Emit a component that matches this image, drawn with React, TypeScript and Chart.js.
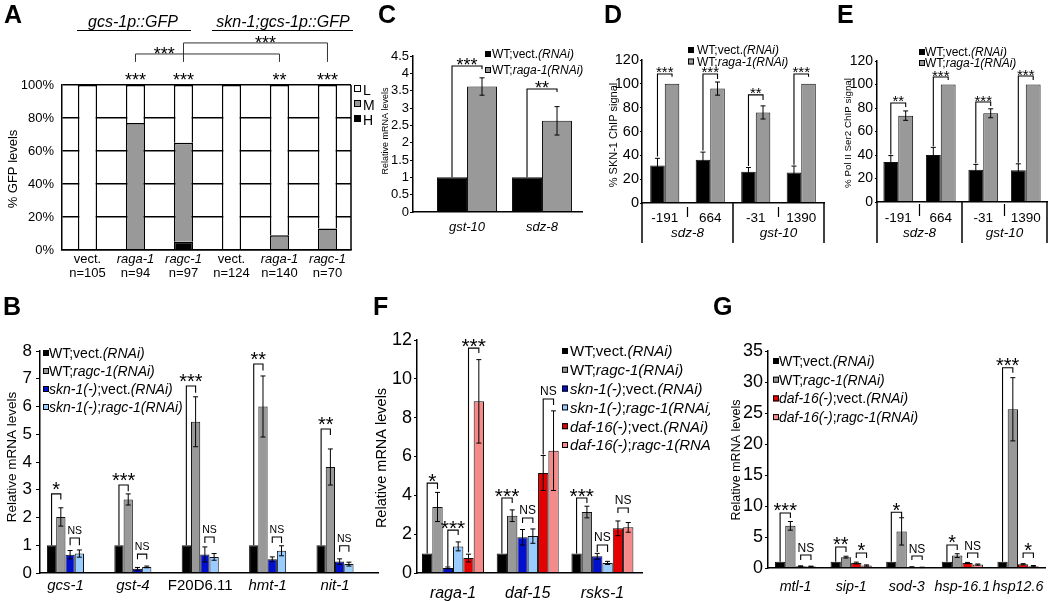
import React, { useEffect, useRef } from 'react';
import { Chart, registerables } from 'chart.js';

Chart.register(...registerables);

const W = 1050;
const H = 601;
const FONT = 'Arial, "Liberation Sans", Helvetica, sans-serif';

type Seg = [string, boolean];

// ---------- colours ----------
const COL_BLACK = '#000000';
const COL_GRAY = '#999999';
const COL_WHITE = '#ffffff';
const COL_BLUE = '#0010cc';
const COL_LBLUE = '#99ccff';
const COL_RED = '#e40000';
const COL_PINK = '#f58a8a';

// ---------- legend labels ----------
const LBL_WT_VECT: Seg[] = [['WT;vect.', false], ['(RNAi)', true]];
const LBL_WT_RAGA: Seg[] = [['WT;', false], ['raga-1(RNAi)', true]];
const LBL_WT_RAGC: Seg[] = [['WT;', false], ['ragc-1(RNAi)', true]];
const LBL_SKN_VECT: Seg[] = [['skn-1(-)', true], [';vect.', false], ['(RNAi)', true]];
const LBL_SKN_RAGC: Seg[] = [['skn-1(-)', true], [';', false], ['ragc-1(RNAi)', true]];
const LBL_DAF_VECT: Seg[] = [['daf-16(-)', true], [';vect.', false], ['(RNAi)', true]];
const LBL_DAF_RAGC: Seg[] = [['daf-16(-)', true], [';', false], ['ragc-1(RNAi)', true]];

// ---------- Panel A ----------
const A_GENOTYPE = ['vect.', 'raga-1', 'ragc-1', 'vect.', 'raga-1', 'ragc-1'];
const A_GENOTYPE_ITALIC = [false, true, true, false, true, true];
const A_N = ['n=105', 'n=94', 'n=97', 'n=124', 'n=140', 'n=70'];
const A_HIGH = [0, 0, 5, 0, 0, 0];
const A_MED = [0, 77, 60, 0, 9, 13];
const A_LOW = [100, 23, 35, 100, 91, 87];
const A_STARS = ['', '***', '***', '', '**', '***'];
const A_LEVELS = ['L', 'M', 'H'];
const A_STRAINS = ['gcs-1p::GFP', 'skn-1;gcs-1p::GFP'];
const A_PAIRS = [
  { from: 1, to: 4, top: 118.8, leg: 114, text: '***', at: 0.2 },
  { from: 2, to: 5, top: 125.5, leg: 114, text: '***', at: 0.57 },
];

// ---------- Panel B ----------
const B_GENES = ['gcs-1', 'gst-4', 'F20D6.11', 'hmt-1', 'nit-1'];
const B_GENES_ITALIC = [true, true, false, true, true];
const B_WT_VECT = [1, 1, 1, 1, 1];
const B_WT_RAGC = [2.02, 2.65, 5.45, 6.0, 3.82];
const B_WT_RAGC_ERR = [0.33, 0.2, 0.9, 1.1, 0.65];
const B_SKN_VECT = [0.66, 0.15, 0.67, 0.5, 0.41];
const B_SKN_VECT_ERR = [0.15, 0.05, 0.27, 0.08, 0.1];
const B_SKN_RAGC = [0.7, 0.22, 0.58, 0.8, 0.32];
const B_SKN_RAGC_ERR = [0.13, 0.03, 0.12, 0.18, 0.07];
const B_SIG = [
  { cat: 0, a: 0, b: 1, top: 2.85, aEnd: 1, bEnd: 2.65, text: '*' },
  { cat: 0, a: 2, b: 3, top: 1.26, aEnd: 1.0, bEnd: 1.0, text: 'NS' },
  { cat: 1, a: 0, b: 1, top: 3.17, aEnd: 1, bEnd: 2.95, text: '***' },
  { cat: 1, a: 2, b: 3, top: 0.68, aEnd: 0.5, bEnd: 0.5, text: 'NS' },
  { cat: 2, a: 0, b: 1, top: 6.74, aEnd: 1, bEnd: 6.5, text: '***' },
  { cat: 2, a: 2, b: 3, top: 1.3, aEnd: 1.08, bEnd: 1.08, text: 'NS' },
  { cat: 3, a: 0, b: 1, top: 7.53, aEnd: 1, bEnd: 7.3, text: '**' },
  { cat: 3, a: 2, b: 3, top: 1.3, aEnd: 1.08, bEnd: 1.08, text: 'NS' },
  { cat: 4, a: 0, b: 1, top: 5.19, aEnd: 1, bEnd: 4.97, text: '**' },
  { cat: 4, a: 2, b: 3, top: 0.98, aEnd: 0.77, bEnd: 0.77, text: 'NS' },
];

// ---------- Panel C ----------
const C_GENES = ['gst-10', 'sdz-8'];
const C_VECT = [1, 1];
const C_RAGA = [3.62, 2.63];
const C_RAGA_ERR = [0.25, 0.41];
const C_SIG = [
  { cat: 0, a: 0, b: 1, top: 4.21, aEnd: 1, bEnd: 4.12, text: '***' },
  { cat: 1, a: 0, b: 1, top: 3.55, aEnd: 1, bEnd: 3.46, text: '**' },
];

// ---------- Panel D ----------
const D_SITES = ['-191', '664', '-31', '1390'];
const D_GENES = ['sdz-8', 'gst-10'];
const D_VECT = [31.5, 36.3, 26.2, 25.6];
const D_VECT_ERR = [6, 6.4, 3.6, 5.4];
const D_RAGA = [100, 96, 76, 100];
const D_RAGA_ERR = [0, 5.5, 5.5, 0];
const D_SIG = [
  { cat: 0, a: 0, b: 1, top: 108.3, aEnd: 39, bEnd: 106, text: '***' },
  { cat: 1, a: 0, b: 1, top: 108.3, aEnd: 44, bEnd: 104, text: '***' },
  { cat: 2, a: 0, b: 1, top: 90.7, aEnd: 31, bEnd: 86.5, text: '**' },
  { cat: 3, a: 0, b: 1, top: 108.3, aEnd: 32, bEnd: 106, text: '***' },
];

// ---------- Panel E ----------
const E_SITES = ['-191', '664', '-31', '1390'];
const E_GENES = ['sdz-8', 'gst-10'];
const E_VECT = [34, 40, 27.5, 27];
const E_VECT_ERR = [5.5, 6.5, 4.5, 5.5];
const E_RAGA = [73.5, 100, 75.5, 100];
const E_RAGA_ERR = [4, 0, 3.8, 0];
const E_SIG = [
  { cat: 0, a: 0, b: 1, top: 84.3, aEnd: 40.5, bEnd: 80.9, text: '**' },
  { cat: 1, a: 0, b: 1, top: 106.4, aEnd: 47.5, bEnd: 103.8, text: '***' },
  { cat: 2, a: 0, b: 1, top: 85.1, aEnd: 33, bEnd: 81.7, text: '***' },
  { cat: 3, a: 0, b: 1, top: 107.2, aEnd: 33.5, bEnd: 103.8, text: '***' },
];

// ---------- Panel F ----------
const F_GENES = ['raga-1', 'daf-15', 'rsks-1'];
const F_WT_VECT = [1, 1, 1];
const F_WT_RAGC = [3.4, 2.95, 3.14];
const F_WT_RAGC_ERR = [0.75, 0.3, 0.3];
const F_SKN_VECT = [0.26, 1.84, 0.86];
const F_SKN_VECT_ERR = [0.05, 0.4, 0.15];
const F_SKN_RAGC = [1.37, 1.9, 0.52];
const F_SKN_RAGC_ERR = [0.23, 0.37, 0.08];
const F_DAF_VECT = [0.77, 5.15, 2.3];
const F_DAF_VECT_ERR = [0.2, 0.9, 0.38];
const F_DAF_RAGC = [8.84, 6.3, 2.35];
const F_DAF_RAGC_ERR = [2.15, 2.05, 0.25];
const F_SIG = [
  { cat: 0, a: 0, b: 1, top: 4.63, aEnd: 1, bEnd: 4.33, text: '*' },
  { cat: 0, a: 2, b: 3, top: 2.21, aEnd: 0.33, bEnd: 1.96, text: '***' },
  { cat: 0, a: 4, b: 5, top: 11.58, aEnd: 1.05, bEnd: 11.33, text: '***' },
  { cat: 1, a: 0, b: 1, top: 3.86, aEnd: 1, bEnd: 3.6, text: '***' },
  { cat: 1, a: 2, b: 3, top: 2.83, aEnd: 2.58, bEnd: 2.58, text: 'NS' },
  { cat: 1, a: 4, b: 5, top: 8.96, aEnd: 6.1, bEnd: 8.65, text: 'NS' },
  { cat: 2, a: 0, b: 1, top: 3.86, aEnd: 1, bEnd: 3.6, text: '***' },
  { cat: 2, a: 2, b: 3, top: 1.44, aEnd: 1.08, bEnd: 1.08, text: 'NS' },
  { cat: 2, a: 4, b: 5, top: 3.35, aEnd: 3.09, bEnd: 3.09, text: 'NS' },
];

// ---------- Panel G ----------
const G_GENES = ['mtl-1', 'sip-1', 'sod-3', 'hsp-16.1', 'hsp12.6'];
const G_WT_VECT = [1, 1, 1, 1, 1];
const G_WT_RAGC = [6.8, 1.75, 5.9, 2.0, 25.6];
const G_WT_RAGC_ERR = [0.7, 0.15, 2.2, 0.3, 5.1];
const G_DAF_VECT = [0.3, 0.8, 0.15, 0.8, 0.6];
const G_DAF_VECT_ERR = [0.05, 0.15, 0.05, 0.1, 0.1];
const G_DAF_RAGC = [0.25, 0.4, 0.1, 0.55, 0.3];
const G_DAF_RAGC_ERR = [0.05, 0.1, 0.03, 0.1, 0.1];
const G_SIG = [
  { cat: 0, a: 0, b: 1, top: 8.87, aEnd: 1, bEnd: 8.06, text: '***' },
  { cat: 0, a: 2, b: 3, top: 2.1, aEnd: 1.29, bEnd: 1.29, text: 'NS' },
  { cat: 1, a: 0, b: 1, top: 3.39, aEnd: 1, bEnd: 2.58, text: '**' },
  { cat: 1, a: 2, b: 3, top: 2.42, aEnd: 1.6, bEnd: 1.6, text: '*' },
  { cat: 2, a: 0, b: 1, top: 9.0, aEnd: 1, bEnd: 8.1, text: '*' },
  { cat: 2, a: 2, b: 3, top: 1.94, aEnd: 1.29, bEnd: 1.29, text: 'NS' },
  { cat: 3, a: 0, b: 1, top: 3.7, aEnd: 1, bEnd: 2.9, text: '*' },
  { cat: 3, a: 2, b: 3, top: 2.42, aEnd: 1.6, bEnd: 1.6, text: 'NS' },
  { cat: 4, a: 0, b: 1, top: 32.3, aEnd: 1, bEnd: 31.5, text: '***' },
  { cat: 4, a: 2, b: 3, top: 2.42, aEnd: 1.6, bEnd: 1.6, text: '*' },
];

// ---------- drawing helpers ----------
function line(ctx: any, x1: number, y1: number, x2: number, y2: number) {
  ctx.beginPath();
  ctx.moveTo(x1, y1);
  ctx.lineTo(x2, y2);
  ctx.stroke();
}

function fontOf(size: number, italic: boolean, bold = false) {
  return `${italic ? 'italic ' : ''}${bold ? 'bold ' : ''}${size}px ${FONT}`;
}

function segsWidth(ctx: any, segs: Seg[], size: number) {
  let w = 0;
  for (const [t, it] of segs) {
    ctx.font = fontOf(size, it);
    w += ctx.measureText(t).width;
  }
  return w;
}

function drawSegs(ctx: any, segs: Seg[], x: number, y: number, size: number, center: boolean) {
  let cx = center ? x - segsWidth(ctx, segs, size) / 2 : x;
  ctx.textAlign = 'left';
  ctx.textBaseline = 'alphabetic';
  ctx.fillStyle = '#000';
  for (const [t, it] of segs) {
    ctx.font = fontOf(size, it);
    ctx.fillText(t, cx, y);
    cx += ctx.measureText(t).width;
  }
}

function drawSigText(ctx: any, text: string, x: number, cy: number, starFont: number, nsFont: number) {
  const star = text.indexOf('*') >= 0;
  const size = star ? starFont : nsFont;
  ctx.font = fontOf(size, false);
  ctx.textAlign = 'center';
  ctx.textBaseline = 'alphabetic';
  ctx.fillStyle = '#000';
  ctx.fillText(text, x, cy + (star ? 0.57 : 0.36) * size);
}

interface Series { label: Seg[]; values: number[]; errors?: number[]; color: string }
interface Sig { cat: number; a: number; b: number; top: number; aEnd: number; bEnd: number; text: string }
interface XRow { segs: Seg[][]; y: number; font: number }

interface PanelSpec {
  letter: string;
  letterAt: [number, number];
  area: [number, number, number, number];
  xRange: [number, number];
  count: number;
  y: { min: number; max: number; step: number; font: number; tick: number; pad: number; fmt: (v: number) => string; grid?: boolean };
  series: Series[];
  barBorder: string;
  barBorderW: number;
  stacked?: boolean;
  catPct: number;
  cap: number;
  sigs: Sig[];
  starFont: number;
  nsFont: number;
  starGap: number;
  nsGap: number;
  title: { text: string; font: number; x: number; y: number };
  legend?: { x: number; tx: number; y: number; dy: number; font: number; sq: number };
  xRows: XRow[];
  clipRight?: number;
  extra?: (ctx: any, chart: any) => void;
}

function italicRow(names: string[], italic?: boolean[]): Seg[][] {
  return names.map((n, i) => [[n, italic ? italic[i] : true]] as Seg[]);
}

function drawSiteBox(ctx: any, chart: any, genes: string[], top0: number) {
  const xs = chart.scales.x;
  const b = chart.chartArea.bottom;
  ctx.strokeStyle = '#000';
  ctx.lineWidth = 1.5;
  [0.5, 2.5, 4.5].forEach((v) => {
    const x = xs.getPixelForValue(v);
    line(ctx, x, b, x, 243);
  });
  ctx.lineWidth = 1.2;
  [1.5, 3.5].forEach((v) => {
    const x = xs.getPixelForValue(v);
    line(ctx, x, b + top0, x, b + 14);
  });
  genes.forEach((g, k) => drawSegs(ctx, [[g, true]], xs.getPixelForValue(1.5 + 2 * k), 237, 13.5, true));
}

function drawAExtra(ctx: any, chart: any) {
  const xs = chart.scales.x;
  const ys = chart.scales.y;
  const ca = chart.chartArea;
  ctx.strokeStyle = '#000';
  ctx.lineWidth = 1.5;
  line(ctx, ca.right, ca.top, ca.right, ca.bottom);
  // strain headers
  const hx = [133, 283];
  const ul: [number, number][] = [[77, 191], [212, 353]];
  A_STRAINS.forEach((s, k) => {
    drawSegs(ctx, [[s, true]], hx[k], 26.5, 16, true);
    ctx.lineWidth = 1;
    line(ctx, ul[k][0], 30.5, ul[k][1], 30.5);
  });
  // stars above bars
  A_STARS.forEach((s, i) => {
    if (s) drawSigText(ctx, s, xs.getPixelForValue(i + 1), ys.getPixelForValue(105.5), 18, 12);
  });
  // cross-strain brackets
  ctx.strokeStyle = '#333';
  ctx.lineWidth = 1;
  A_PAIRS.forEach((p) => {
    const x1 = xs.getPixelForValue(p.from + 1);
    const x2 = xs.getPixelForValue(p.to + 1);
    const yt = ys.getPixelForValue(p.top);
    const yl = ys.getPixelForValue(p.leg);
    ctx.beginPath();
    ctx.moveTo(x1, yl);
    ctx.lineTo(x1, yt);
    ctx.lineTo(x2, yt);
    ctx.lineTo(x2, yl);
    ctx.stroke();
    drawSigText(ctx, p.text, x1 + p.at * (x2 - x1), yt - 4, 18, 12);
  });
  // legend L / M / H
  const lcol = [COL_WHITE, COL_GRAY, COL_BLACK];
  A_LEVELS.forEach((lv, i) => {
    const cy = 88.5 + i * 15;
    ctx.fillStyle = lcol[i];
    ctx.fillRect(354, cy - 3.5, 7, 7);
    ctx.strokeStyle = '#000';
    ctx.lineWidth = 1;
    ctx.strokeRect(354.5, cy - 3, 6, 6);
    drawSegs(ctx, [[lv, false]], 363, cy + 0.36 * 14 + 1, 14, false);
  });
}

function annotPlugin(spec: PanelSpec) {
  return {
    id: 'annot',
    afterDraw(chart: any) {
      const ctx = chart.ctx;
      const xs = chart.scales.x;
      const ys = chart.scales.y;
      ctx.save();
      if (spec.clipRight) {
        ctx.beginPath();
        ctx.rect(0, 0, spec.clipRight, H);
        ctx.clip();
      }
      ctx.strokeStyle = '#000';
      ctx.fillStyle = '#000';
      ctx.lineWidth = 1;
      // error bars
      spec.series.forEach((s, di) => {
        if (!s.errors) return;
        const meta = chart.getDatasetMeta(di);
        s.values.forEach((v, i) => {
          const e = s.errors![i];
          if (!e) return;
          const x = meta.data[i].x;
          const y1 = ys.getPixelForValue(v + e);
          const y2 = ys.getPixelForValue(v - e);
          line(ctx, x, y1, x, y2);
          line(ctx, x - spec.cap, y1, x + spec.cap, y1);
          line(ctx, x - spec.cap, y2, x + spec.cap, y2);
        });
      });
      // significance brackets
      ctx.lineWidth = 1.1;
      spec.sigs.forEach((sg) => {
        const xa = chart.getDatasetMeta(sg.a).data[sg.cat].x;
        const xb = chart.getDatasetMeta(sg.b).data[sg.cat].x;
        const yt = ys.getPixelForValue(sg.top);
        ctx.beginPath();
        ctx.moveTo(xa, ys.getPixelForValue(sg.aEnd));
        ctx.lineTo(xa, yt);
        ctx.lineTo(xb, yt);
        ctx.lineTo(xb, ys.getPixelForValue(sg.bEnd));
        ctx.stroke();
        const star = sg.text.indexOf('*') >= 0;
        drawSigText(ctx, sg.text, (xa + xb) / 2, yt - (star ? spec.starGap : spec.nsGap), spec.starFont, spec.nsFont);
      });
      // x labels
      spec.xRows.forEach((row) => {
        row.segs.forEach((segs, i) => drawSegs(ctx, segs, xs.getPixelForValue(i + 1), row.y, row.font, true));
      });
      // y title
      ctx.save();
      ctx.translate(spec.title.x, spec.title.y);
      ctx.rotate(-Math.PI / 2);
      ctx.font = fontOf(spec.title.font, false);
      ctx.textAlign = 'center';
      ctx.textBaseline = 'middle';
      ctx.fillStyle = '#000';
      ctx.fillText(spec.title.text, 0, 0);
      ctx.restore();
      // legend
      if (spec.legend) {
        const lg = spec.legend;
        spec.series.forEach((s, i) => {
          const cy = lg.y + i * lg.dy;
          ctx.fillStyle = s.color;
          ctx.fillRect(lg.x, cy - lg.sq / 2, lg.sq, lg.sq);
          ctx.strokeStyle = '#000';
          ctx.lineWidth = 1;
          ctx.strokeRect(lg.x + 0.5, cy - lg.sq / 2 + 0.5, lg.sq - 1, lg.sq - 1);
          drawSegs(ctx, s.label, lg.tx, cy + 0.36 * lg.font, lg.font, false);
        });
      }
      // panel letter
      ctx.font = fontOf(25, false, true);
      ctx.textAlign = 'left';
      ctx.textBaseline = 'alphabetic';
      ctx.fillStyle = '#000';
      ctx.fillText(spec.letter, spec.letterAt[0], spec.letterAt[1]);
      if (spec.extra) spec.extra(ctx, chart);
      ctx.restore();
    },
  };
}

function makeConfig(spec: PanelSpec): any {
  const [L, T, R, B] = spec.area;
  const yW = 40;
  const xH = 10;
  const tickList = Array.from({ length: spec.count }, (_, i) => ({ value: i + 1 }));
  return {
    type: 'bar',
    data: {
      datasets: spec.series.map((s) => ({
        data: s.values.map((v, i) => ({ x: i + 1, y: v })),
        backgroundColor: s.color,
        borderColor: spec.barBorder,
        borderWidth: spec.barBorderW,
        borderSkipped: 'start',
        categoryPercentage: spec.catPct,
        barPercentage: 1,
        inflateAmount: 0,
      })),
    },
    options: {
      responsive: false,
      animation: false,
      events: [],
      devicePixelRatio: 1,
      layout: { padding: { left: L - yW, top: T, right: W - R, bottom: H - B - xH } },
      plugins: { legend: { display: false }, tooltip: { enabled: false }, title: { display: false } },
      scales: {
        x: {
          type: 'linear',
          min: spec.xRange[0],
          max: spec.xRange[1],
          offset: false,
          stacked: !!spec.stacked,
          afterBuildTicks: (s: any) => {
            s.ticks = tickList.map((t) => ({ ...t }));
          },
          afterFit: (s: any) => {
            s.height = xH;
          },
          ticks: { display: false },
          grid: { display: false },
          border: { display: true, color: '#000', width: 1.5, z: 1 },
        },
        y: {
          type: 'linear',
          min: spec.y.min,
          max: spec.y.max,
          stacked: !!spec.stacked,
          afterFit: (s: any) => {
            s.width = yW;
          },
          ticks: {
            stepSize: spec.y.step,
            autoSkip: false,
            color: '#000',
            padding: spec.y.pad,
            font: { family: FONT, size: spec.y.font },
            callback: (v: any) => spec.y.fmt(Number(v)),
          },
          grid: spec.y.grid
            ? { display: true, drawOnChartArea: true, drawTicks: false, color: '#000', lineWidth: 1.5 }
            : { display: true, drawOnChartArea: false, drawTicks: true, tickLength: spec.y.tick, color: '#000', lineWidth: 1 },
          border: { display: true, color: '#000', width: 1.5, z: 1 },
        },
      },
    },
    plugins: [annotPlugin(spec)],
  };
}

const num = (v: number) => `${v}`;

const SPEC_A: PanelSpec = {
  letter: 'A', letterAt: [4, 23],
  area: [62, 85, 351, 250], xRange: [0.469, 6.49], count: A_GENOTYPE.length,
  y: { min: 0, max: 100, step: 20, font: 13, tick: 0, pad: 8, fmt: (v) => `${v}%`, grid: true },
  series: [
    { label: [['H', false]], values: A_HIGH, color: COL_BLACK },
    { label: [['M', false]], values: A_MED, color: COL_GRAY },
    { label: [['L', false]], values: A_LOW, color: COL_WHITE },
  ],
  barBorder: '#000', barBorderW: 1.5, stacked: true, catPct: 0.4, cap: 0,
  sigs: [], starFont: 18, nsFont: 12, starGap: 4, nsGap: 4,
  title: { text: '% GFP levels', font: 13, x: 13, y: 169 },
  xRows: [
    { segs: italicRow(A_GENOTYPE, A_GENOTYPE_ITALIC), y: 263, font: 13 },
    { segs: italicRow(A_N, A_N.map(() => false)), y: 277, font: 13 },
  ],
  extra: drawAExtra,
};

const SPEC_B: PanelSpec = {
  letter: 'B', letterAt: [3, 315],
  area: [40, 351, 378, 573], xRange: [0.622, 5.638], count: B_GENES.length,
  y: { min: 0, max: 8, step: 1, font: 17, tick: 4, pad: 4, fmt: num },
  series: [
    { label: LBL_WT_VECT, values: B_WT_VECT, color: COL_BLACK },
    { label: LBL_WT_RAGC, values: B_WT_RAGC, errors: B_WT_RAGC_ERR, color: COL_GRAY },
    { label: LBL_SKN_VECT, values: B_SKN_VECT, errors: B_SKN_VECT_ERR, color: COL_BLUE },
    { label: LBL_SKN_RAGC, values: B_SKN_RAGC, errors: B_SKN_RAGC_ERR, color: COL_LBLUE },
  ],
  barBorder: '#111', barBorderW: 1, catPct: 0.55, cap: 2.5,
  sigs: B_SIG, starFont: 20, nsFont: 10.5, starGap: 9, nsGap: 8,
  title: { text: 'Relative mRNA levels', font: 13.5, x: 12, y: 457 },
  legend: { x: 43, tx: 49, y: 353, dy: 18, font: 14, sq: 6 },
  xRows: [{ segs: italicRow(B_GENES, B_GENES_ITALIC), y: 590, font: 15 }],
};

const SPEC_C: PanelSpec = {
  letter: 'C', letterAt: [378, 23],
  area: [413, 56, 582, 212], xRange: [0.28, 2.533], count: C_GENES.length,
  y: { min: 0, max: 4.5, step: 0.5, font: 13, tick: 3, pad: 1, fmt: num },
  series: [
    { label: LBL_WT_VECT, values: C_VECT, color: COL_BLACK },
    { label: LBL_WT_RAGA, values: C_RAGA, errors: C_RAGA_ERR, color: COL_GRAY },
  ],
  barBorder: '#111', barBorderW: 1, catPct: 0.8, cap: 2.5,
  sigs: C_SIG, starFont: 18, nsFont: 12, starGap: 5, nsGap: 5,
  title: { text: 'Relative mRNA levels', font: 9, x: 386, y: 131 },
  legend: { x: 485, tx: 492, y: 54, dy: 16, font: 12, sq: 6 },
  xRows: [{ segs: italicRow(C_GENES), y: 231, font: 13 }],
};

const SPEC_D: PanelSpec = {
  letter: 'D', letterAt: [604, 23],
  area: [642, 60, 824, 203], xRange: [0.5, 4.5], count: D_SITES.length,
  y: { min: 0, max: 120, step: 20, font: 14.5, tick: 2, pad: 1, fmt: num },
  series: [
    { label: LBL_WT_VECT, values: D_VECT, errors: D_VECT_ERR, color: COL_BLACK },
    { label: LBL_WT_RAGA, values: D_RAGA, errors: D_RAGA_ERR, color: COL_GRAY },
  ],
  barBorder: '#111', barBorderW: 1, catPct: 0.64, cap: 2.5,
  sigs: D_SIG, starFont: 15, nsFont: 12, starGap: 5, nsGap: 5,
  title: { text: '% SKN-1 ChIP signal', font: 11, x: 614, y: 135 },
  legend: { x: 688, tx: 697, y: 50, dy: 11.5, font: 12, sq: 6 },
  xRows: [{ segs: italicRow(D_SITES, D_SITES.map(() => false)), y: 222, font: 13.5 }],
  extra: (ctx, chart) => drawSiteBox(ctx, chart, D_GENES, 4),
};

const SPEC_E: PanelSpec = {
  letter: 'E', letterAt: [837, 23],
  area: [877, 61, 1047, 202], xRange: [0.5, 4.5], count: E_SITES.length,
  y: { min: 0, max: 120, step: 20, font: 14, tick: 2, pad: 2, fmt: num },
  series: [
    { label: LBL_WT_VECT, values: E_VECT, errors: E_VECT_ERR, color: COL_BLACK },
    { label: LBL_WT_RAGA, values: E_RAGA, errors: E_RAGA_ERR, color: COL_GRAY },
  ],
  barBorder: '#111', barBorderW: 1, catPct: 0.7, cap: 2.5,
  sigs: E_SIG, starFont: 15, nsFont: 12, starGap: 5, nsGap: 5,
  title: { text: '% Pol II Ser2 ChIP signal', font: 9.8, x: 848, y: 133 },
  legend: { x: 919, tx: 925, y: 52, dy: 11, font: 12, sq: 6 },
  xRows: [{ segs: italicRow(E_SITES, E_SITES.map(() => false)), y: 222, font: 13.5 }],
  extra: (ctx, chart) => drawSiteBox(ctx, chart, E_GENES, 2),
};

const SPEC_F: PanelSpec = {
  letter: 'F', letterAt: [373, 315],
  area: [417, 340, 642, 573], xRange: [0.518, 3.53], count: F_GENES.length,
  y: { min: 0, max: 12, step: 2, font: 18, tick: 3, pad: 2, fmt: num },
  series: [
    { label: LBL_WT_VECT, values: F_WT_VECT, color: COL_BLACK },
    { label: LBL_WT_RAGC, values: F_WT_RAGC, errors: F_WT_RAGC_ERR, color: COL_GRAY },
    { label: LBL_SKN_VECT, values: F_SKN_VECT, errors: F_SKN_VECT_ERR, color: COL_BLUE },
    { label: LBL_SKN_RAGC, values: F_SKN_RAGC, errors: F_SKN_RAGC_ERR, color: COL_LBLUE },
    { label: LBL_DAF_VECT, values: F_DAF_VECT, errors: F_DAF_VECT_ERR, color: COL_RED },
    { label: LBL_DAF_RAGC, values: F_DAF_RAGC, errors: F_DAF_RAGC_ERR, color: COL_PINK },
  ],
  barBorder: '#111', barBorderW: 1, catPct: 0.83, cap: 2.5,
  sigs: F_SIG, starFont: 21, nsFont: 12, starGap: 7, nsGap: 8,
  title: { text: 'Relative mRNA levels', font: 14.5, x: 382, y: 458 },
  legend: { x: 562, tx: 570, y: 351, dy: 18.8, font: 15, sq: 6 },
  xRows: [{ segs: italicRow(F_GENES), y: 598, font: 16 }],
  clipRight: 710,
};

const SPEC_G: PanelSpec = {
  letter: 'G', letterAt: [713, 315],
  area: [768, 351, 1045, 568], xRange: [0.505, 5.486], count: G_GENES.length,
  y: { min: 0, max: 35, step: 5, font: 18, tick: 3, pad: 2, fmt: num },
  series: [
    { label: LBL_WT_VECT, values: G_WT_VECT, color: COL_BLACK },
    { label: LBL_WT_RAGC, values: G_WT_RAGC, errors: G_WT_RAGC_ERR, color: COL_GRAY },
    { label: LBL_DAF_VECT, values: G_DAF_VECT, errors: G_DAF_VECT_ERR, color: COL_RED },
    { label: LBL_DAF_RAGC, values: G_DAF_RAGC, errors: G_DAF_RAGC_ERR, color: COL_PINK },
  ],
  barBorder: '#111', barBorderW: 1, catPct: 0.74, cap: 2.5,
  sigs: G_SIG, starFont: 20, nsFont: 12, starGap: 7, nsGap: 7,
  title: { text: 'Relative mRNA levels', font: 12.5, x: 737, y: 460 },
  legend: { x: 773, tx: 779, y: 361, dy: 18.7, font: 14, sq: 6 },
  xRows: [{ segs: italicRow(G_GENES), y: 591, font: 14.3 }],
};

const SPECS: PanelSpec[] = [SPEC_A, SPEC_C, SPEC_D, SPEC_E, SPEC_B, SPEC_F, SPEC_G];

function Panel({ spec }: { spec: PanelSpec }) {
  const ref = useRef<HTMLCanvasElement>(null);
  useEffect(() => {
    const chart = new Chart(ref.current as HTMLCanvasElement, makeConfig(spec));
    return () => chart.destroy();
  }, [spec]);
  return (
    <canvas
      ref={ref}
      width={W}
      height={H}
      style={{ position: 'absolute', left: 0, top: 0, width: W, height: H }}
    />
  );
}

export default function App() {
  useEffect(() => {
    document.body.style.margin = '0';
  }, []);
  return (
    <div style={{ position: 'absolute', left: 0, top: 0, width: W, height: H, background: '#fff', overflow: 'hidden' }}>
      {SPECS.map((s) => (
        <Panel key={s.letter} spec={s} />
      ))}
    </div>
  );
}
